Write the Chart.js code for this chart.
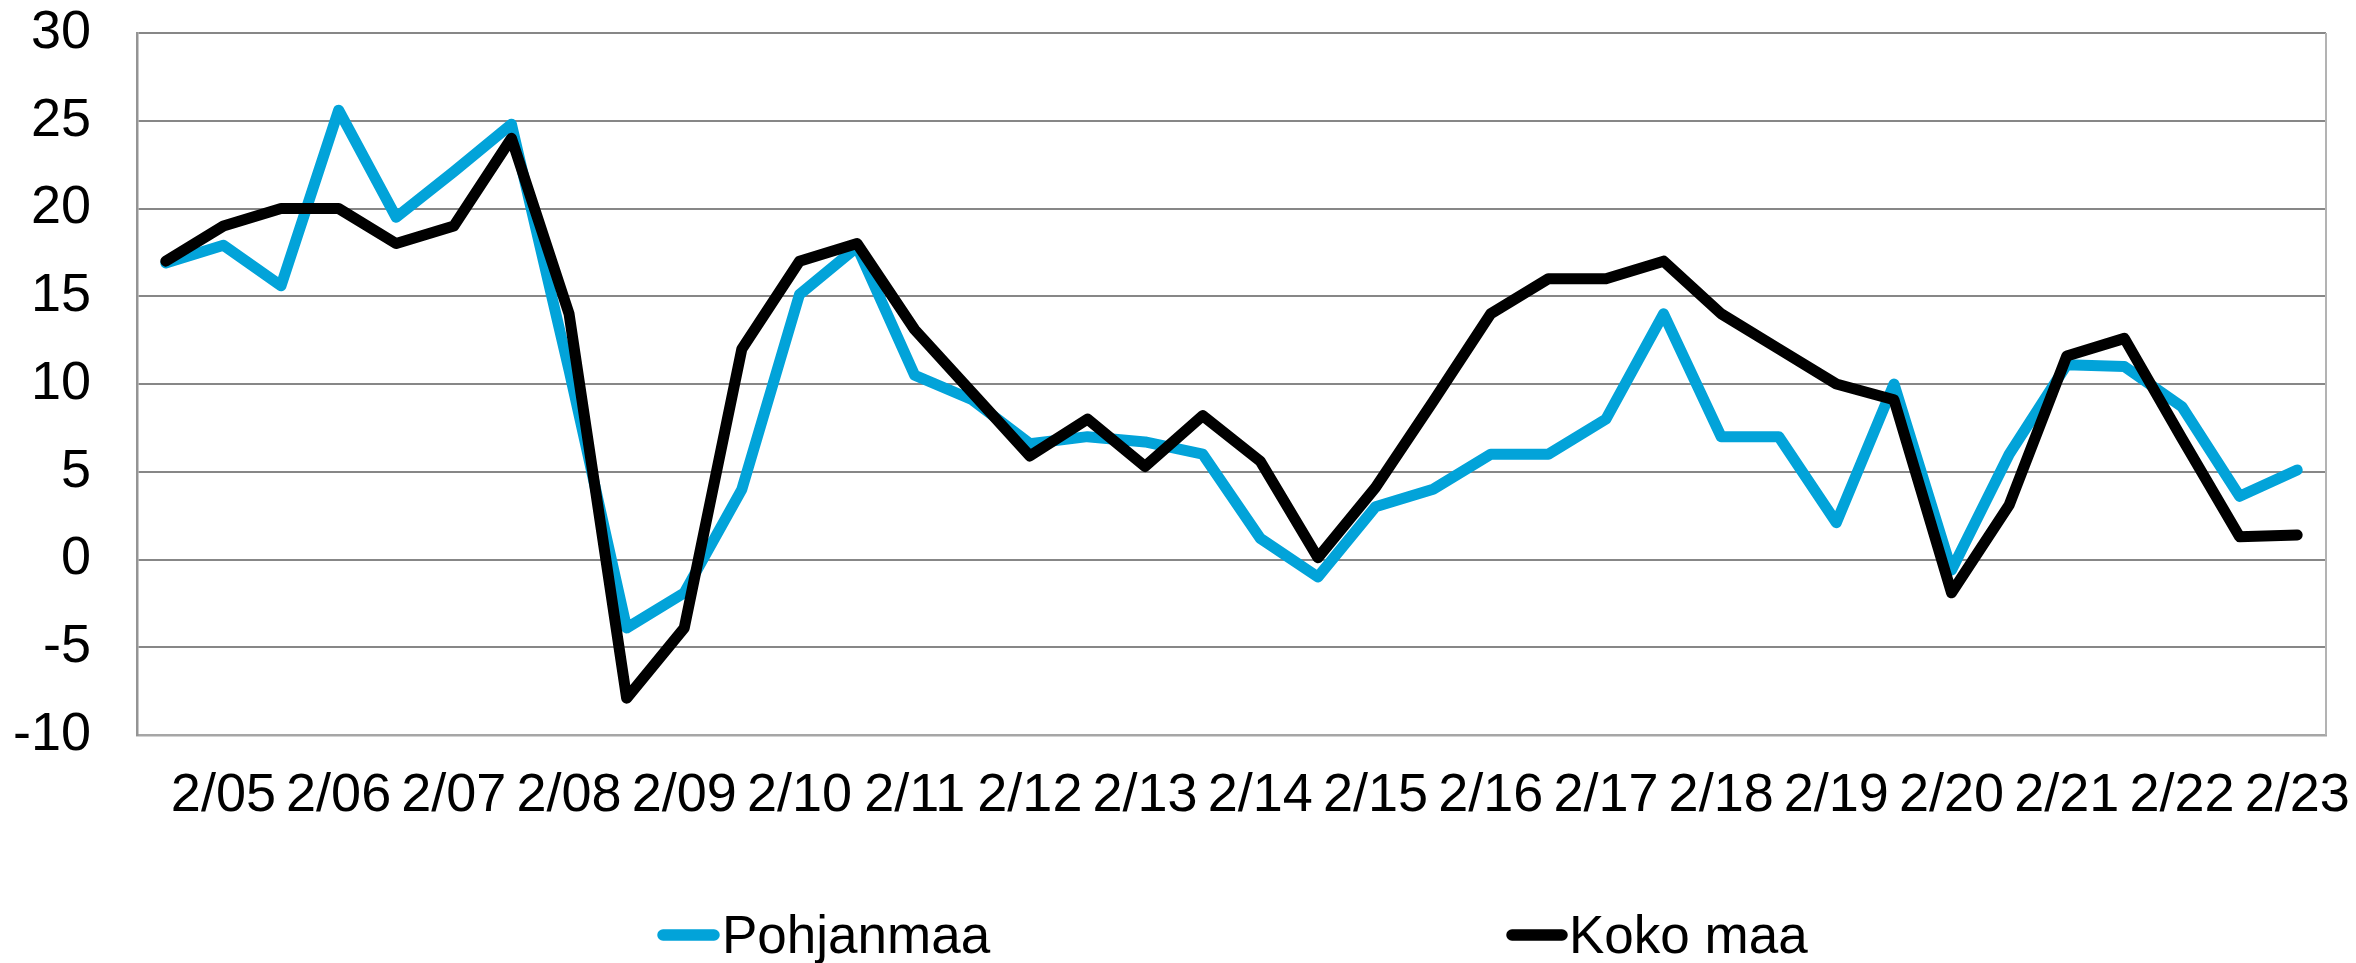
<!DOCTYPE html>
<html>
<head>
<meta charset="utf-8">
<script src="https://cdn.jsdelivr.net/npm/chart.js@4.4.1/dist/chart.umd.min.js"></script>
<style>
  html, body { margin: 0; padding: 0; background: #ffffff; }
  #wrap { width: 2356px; height: 963px; }
</style>
</head>
<body>
<div id="wrap"><canvas id="c" width="2356" height="963"></canvas></div>
<script>
// ---- data ----
const categories = [
  "8/04","2/05","8/05","2/06","8/06","2/07","8/07","2/08","8/08","2/09",
  "8/09","2/10","8/10","2/11","8/11","2/12","8/12","2/13","8/13","2/14",
  "8/14","2/15","8/15","2/16","8/16","2/17","8/17","2/18","8/18","2/19",
  "8/19","2/20","8/20","2/21","8/21","2/22","8/22","2/23"
];
const seriesNames = ["Pohjanmaa", "Koko maa"];
const pohjanmaa = [
  16.9, 17.9, 15.6, 25.6, 19.5, 22.1, 24.8, 10.8, -3.9, -1.9,
  4.0, 15.1, 17.8, 10.5, 9.1, 6.6, 7.0, 6.7, 6.0, 1.2,
  -1.0, 3.0, 4.0, 6.0, 6.0, 8.0, 14.0, 7.0, 7.0, 2.1,
  10.0, -0.6, 6.0, 11.1, 11.0, 8.7, 3.6, 5.1
];
const kokoMaa = [
  17.0, 19.0, 20.0, 20.0, 18.0, 19.0, 24.0, 14.0, -7.9, -3.9,
  12.0, 17.0, 18.0, 13.1, 9.5, 5.9, 8.0, 5.3, 8.2, 5.6,
  0.1, 4.1, 9.0, 14.0, 16.0, 16.0, 17.0, 14.0, 12.0, 10.0,
  9.1, -1.9, 3.1, 11.6, 12.6, 6.9, 1.3, 1.4
];
const yMin = -10, yMax = 30, yStep = 5;

// ---- styles ----
const FONT = "'Liberation Sans', Arial, Helvetica, sans-serif";
const BLUE = "#02A3D9";
const BLACK = "#000000";

// custom legend + right border
const extras = {
  id: 'extras',
  afterDraw(chart) {
    const ctx = chart.ctx;
    const ca = chart.chartArea;
    ctx.save();
    ctx.strokeStyle = '#b3b3b3';
    ctx.lineWidth = 2;
    ctx.beginPath();
    ctx.moveTo(ca.right, ca.top);
    ctx.lineTo(ca.right, ca.bottom);
    ctx.stroke();
    const items = [
      { x1: 663, x2: 714, tx: 722, color: BLUE, text: seriesNames[0] },
      { x1: 1512, x2: 1562, tx: 1569, color: BLACK, text: seriesNames[1] }
    ];
    const ly = 935;
    ctx.font = "53px " + FONT;
    ctx.textBaseline = 'alphabetic';
    ctx.textAlign = 'left';
    items.forEach(it => {
      ctx.strokeStyle = it.color;
      ctx.lineWidth = 11.5;
      ctx.lineCap = 'round';
      ctx.beginPath();
      ctx.moveTo(it.x1, ly);
      ctx.lineTo(it.x2, ly);
      ctx.stroke();
      ctx.fillStyle = '#000';
      ctx.fillText(it.text, it.tx, 953);
    });
    ctx.restore();
  }
};

new Chart(document.getElementById('c'), {
  type: 'line',
  data: {
    labels: categories,
    datasets: [
      {
        label: seriesNames[0], data: pohjanmaa,
        borderColor: BLUE, backgroundColor: BLUE,
        borderWidth: 11, pointRadius: 0, tension: 0,
        borderJoinStyle: 'round', borderCapStyle: 'round', order: 2
      },
      {
        label: seriesNames[1], data: kokoMaa,
        borderColor: BLACK, backgroundColor: BLACK,
        borderWidth: 11, pointRadius: 0, tension: 0,
        borderJoinStyle: 'round', borderCapStyle: 'round', order: 1
      }
    ]
  },
  options: {
    responsive: false,
    animation: false,
    devicePixelRatio: 1,
    layout: { padding: { left: 0, right: 30, top: 33, bottom: 137 } },
    plugins: {
      legend: { display: false },
      tooltip: { enabled: false },
      title: { display: false }
    },
    scales: {
      x: {
        type: 'category',
        offset: true,
        grid: { display: false, drawTicks: false },
        border: { display: true, color: '#a6a6a6', width: 2.5 },
        ticks: {
          autoSkip: false, maxRotation: 0, minRotation: 0,
          padding: 29, color: '#000',
          font: { family: FONT, size: 54 },
          callback: function(val, idx) {
            return idx % 2 === 1 ? categories[idx] : '';
          }
        },
        afterFit(scale) {
          scale.paddingLeft = 0; scale.paddingRight = 0;
          scale.height = 963 - 137 - 735;
        }
      },
      y: {
        min: yMin, max: yMax,
        grid: { color: '#878787', lineWidth: 2, drawTicks: false },
        border: { display: true, color: '#949494', width: 2.5 },
        ticks: {
          stepSize: yStep, padding: 46, color: '#000',
          font: { family: FONT, size: 54 }
        },
        afterFit(scale) {
          scale.width = 137;
          scale.paddingTop = 0; scale.paddingBottom = 0;
        }
      }
    }
  },
  plugins: [extras]
});
</script>
</body>
</html>
